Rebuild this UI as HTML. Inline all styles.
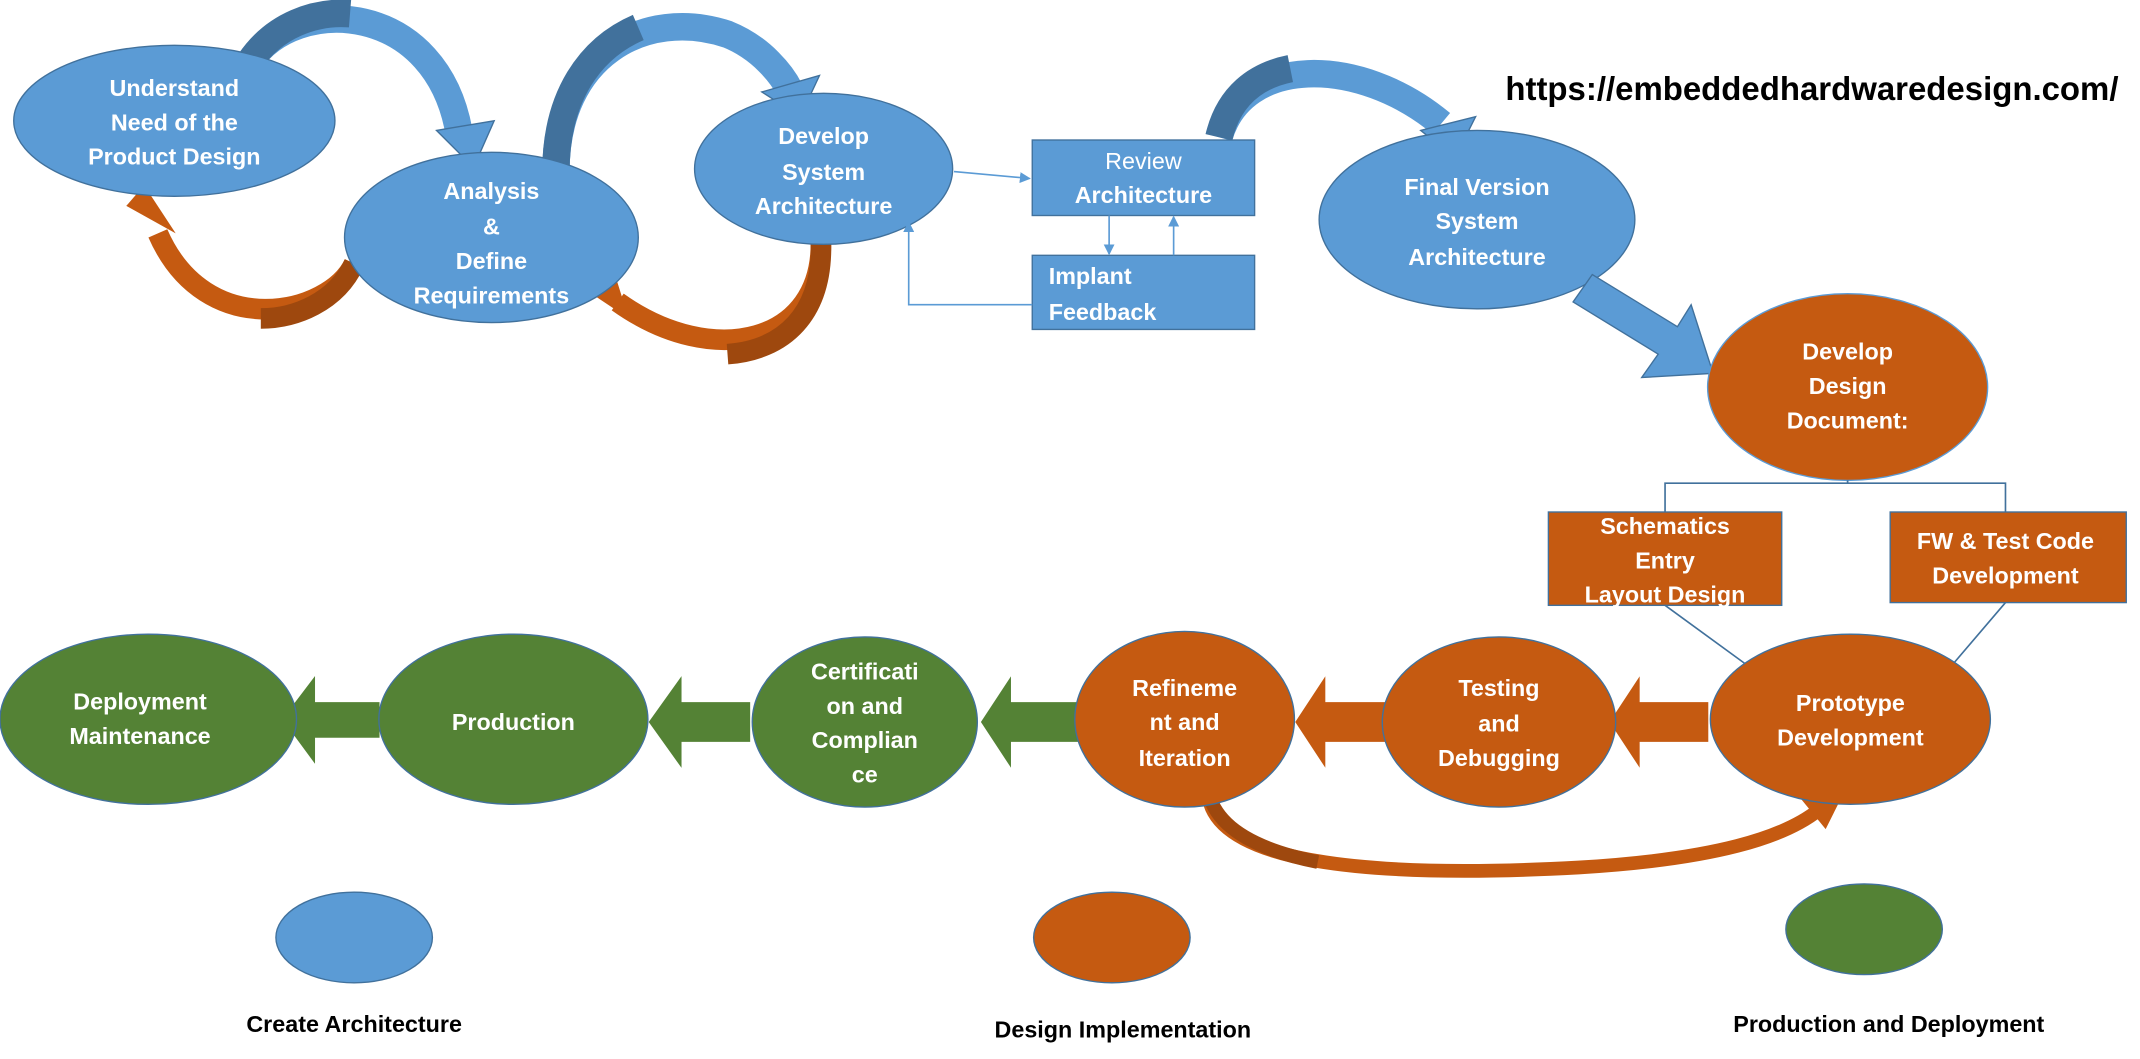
<!DOCTYPE html>
<html><head><meta charset="utf-8"><style>
html,body{margin:0;padding:0;background:#fff;}
svg{display:block;}
text{font-family:"Liberation Sans",sans-serif;font-weight:bold;}
.w{fill:#fff;font-size:17px;text-anchor:middle;}
.k{fill:#000;font-size:17px;text-anchor:middle;}
</style></head><body>
<svg width="2140" height="1059" viewBox="0 0 1559 771.5" preserveAspectRatio="none" xmlns="http://www.w3.org/2000/svg">
<defs>
<marker id="ah" markerWidth="8" markerHeight="8" refX="7" refY="4" orient="auto" markerUnits="userSpaceOnUse"><path d="M0,0 L8,4 L0,8 z" fill="#5B9BD5"/></marker>
</defs>

<!-- top blue curved arrows -->
<path d="M182,45 C215,-5 320,0 335,100" fill="none" stroke="#5B9BD5" stroke-width="20"/>
<path d="M182,45 C200,18 230,8 255,10" fill="none" stroke="#41719C" stroke-width="20"/>
<polygon points="318,95 360,88 345,122" fill="#5B9BD5" stroke="#41719C"/>
<path d="M405,125 C405,40 470,5 530,25 C555,35 570,55 575,65" fill="none" stroke="#5B9BD5" stroke-width="20"/>
<path d="M405,125 C405,70 430,35 465,20" fill="none" stroke="#41719C" stroke-width="20"/>
<polygon points="555,67 597,55 583,85" fill="#5B9BD5" stroke="#41719C"/>
<path d="M888,100 C905,40 990,40 1050,90" fill="none" stroke="#5B9BD5" stroke-width="20"/>
<path d="M888,100 C895,70 915,55 940,50" fill="none" stroke="#41719C" stroke-width="20"/>
<polygon points="1035,95 1075,85 1060,115" fill="#5B9BD5" stroke="#41719C"/>

<!-- orange curved arrows -->
<path d="M258,192 C240,230 150,250 115,170" fill="none" stroke="#C55A11" stroke-width="15"/>
<path d="M258,192 C245,220 215,232 190,232" fill="none" stroke="#9E480E" stroke-width="15"/>
<polygon points="92,150 105,135 128,170" fill="#C55A11"/>
<path d="M598,175 C600,250 520,270 450,220" fill="none" stroke="#C55A11" stroke-width="15"/>
<path d="M598,175 C600,230 570,255 530,258" fill="none" stroke="#9E480E" stroke-width="15"/>
<polygon points="428,212 448,200 458,232" fill="#C55A11"/>

<!-- blue ellipses -->
<ellipse cx="127" cy="88" rx="117" ry="55" fill="#5B9BD5" stroke="#41719C"/>
<text class="w"><tspan x="127" y="70">Understand</tspan><tspan x="127" y="95">Need of the</tspan><tspan x="127" y="120">Product Design</tspan></text>
<ellipse cx="358" cy="173" rx="107" ry="62" fill="#5B9BD5" stroke="#41719C"/>
<text class="w"><tspan x="358" y="145">Analysis</tspan><tspan x="358" y="171">&amp;</tspan><tspan x="358" y="196">Define</tspan><tspan x="358" y="221">Requirements</tspan></text>
<ellipse cx="600" cy="123" rx="94" ry="55" fill="#5B9BD5" stroke="#41719C"/>
<text class="w"><tspan x="600" y="105">Develop</tspan><tspan x="600" y="131">System</tspan><tspan x="600" y="156">Architecture</tspan></text>

<!-- review boxes -->
<rect x="752" y="102" width="162" height="55" fill="#5B9BD5" stroke="#41719C"/>
<text class="w"><tspan x="833" y="123" style="font-weight:normal">Review</tspan><tspan x="833" y="148">Architecture</tspan></text>
<rect x="752" y="186" width="162" height="54" fill="#5B9BD5" stroke="#41719C"/>
<text class="w" style="text-anchor:start"><tspan x="764" y="207">Implant</tspan><tspan x="764" y="233">Feedback</tspan></text>
<g stroke="#5B9BD5" stroke-width="1.2" fill="none" marker-end="url(#ah)">
<path d="M695,125 L750,130"/>
<path d="M808,157 L808,185"/>
<path d="M855,186 L855,158"/>
<path d="M752,222 L662,222 L662,162"/>
</g>

<ellipse cx="1076" cy="160" rx="115" ry="65" fill="#5B9BD5" stroke="#41719C"/>
<text class="w"><tspan x="1076" y="142">Final  Version</tspan><tspan x="1076" y="167">System</tspan><tspan x="1076" y="193">Architecture</tspan></text>

<text x="1320" y="73" class="k" style="font-size:24px">https://embeddedhardwaredesign.com/</text>

<!-- big diagonal arrow -->
<polygon points="1160,200 1222,238 1232,222 1248,272 1196,275 1208,258 1146,220" fill="#5B9BD5" stroke="#41719C"/>

<!-- orange section -->
<ellipse cx="1346" cy="282" rx="102" ry="68" fill="#C55A11" stroke="#5B9BD5"/>
<text class="w"><tspan x="1346" y="262">Develop</tspan><tspan x="1346" y="287">Design</tspan><tspan x="1346" y="312">Document:</tspan></text>
<path d="M1346,350 L1346,352 M1213,373 L1213,352 L1461,352 L1461,373" stroke="#41719C" stroke-width="1.2" fill="none"/>
<path d="M1346,350 L1346,352" stroke="#41719C"/>
<rect x="1128" y="373" width="170" height="68" fill="#C55A11" stroke="#41719C"/>
<text class="w"><tspan x="1213" y="389">Schematics</tspan><tspan x="1213" y="414">Entry</tspan><tspan x="1213" y="439">Layout Design</tspan></text>
<rect x="1377" y="373" width="172" height="66" fill="#C55A11" stroke="#41719C"/>
<text class="w"><tspan x="1461" y="400">FW &amp; Test Code</tspan><tspan x="1461" y="425">Development</tspan></text>
<path d="M1213,441 L1272,484 M1461,439 L1420,487" stroke="#41719C" stroke-width="1.2"/>

<!-- bottom curve -->
<path d="M880,575 C880,630 1000,640 1150,632 C1250,626 1300,610 1325,590" fill="none" stroke="#C55A11" stroke-width="10"/>
<path d="M880,575 C885,605 920,620 960,628" fill="none" stroke="#9E480E" stroke-width="10"/>
<polygon points="1312,582 1342,580 1330,604" fill="#C55A11"/>

<!-- block arrows -->
<g stroke="#fff" stroke-width="1">
<polygon points="1245,511 1195,511 1195,491 1172,526 1195,561 1195,541 1245,541" fill="#C55A11"/>
<polygon points="1016,511 966,511 966,491 943,526 966,561 966,541 1016,541" fill="#C55A11"/>
<polygon points="787,511 737,511 737,491 714,526 737,561 737,541 787,541" fill="#548235"/>
<polygon points="547,511 497,511 497,491 472,526 497,561 497,541 547,541" fill="#548235"/>
<polygon points="277,511 230,511 230,491 205,524 230,558 230,538 277,538" fill="#548235"/>
</g>

<ellipse cx="1348" cy="524" rx="102" ry="62" fill="#C55A11" stroke="#41719C"/>
<text class="w"><tspan x="1348" y="518">Prototype</tspan><tspan x="1348" y="543">Development</tspan></text>
<ellipse cx="1092" cy="526" rx="85" ry="62" fill="#C55A11" stroke="#41719C"/>
<text class="w"><tspan x="1092" y="507">Testing</tspan><tspan x="1092" y="533">and</tspan><tspan x="1092" y="558">Debugging</tspan></text>
<ellipse cx="863" cy="524" rx="80" ry="64" fill="#C55A11" stroke="#41719C"/>
<text class="w"><tspan x="863" y="507">Refineme</tspan><tspan x="863" y="532">nt and</tspan><tspan x="863" y="558">Iteration</tspan></text>
<ellipse cx="630" cy="526" rx="82" ry="62" fill="#548235" stroke="#41719C"/>
<text class="w"><tspan x="630" y="495">Certificati</tspan><tspan x="630" y="520">on and</tspan><tspan x="630" y="545">Complian</tspan><tspan x="630" y="570">ce</tspan></text>
<ellipse cx="374" cy="524" rx="98" ry="62" fill="#548235" stroke="#41719C"/>
<text class="w" x="374" y="532">Production</text>
<ellipse cx="108" cy="524" rx="108" ry="62" fill="#548235" stroke="#41719C"/>
<text class="w"><tspan x="102" y="517">Deployment</tspan><tspan x="102" y="542">Maintenance</tspan></text>

<!-- legend -->
<ellipse cx="258" cy="683" rx="57" ry="33" fill="#5B9BD5" stroke="#41719C"/>
<ellipse cx="810" cy="683" rx="57" ry="33" fill="#C55A11" stroke="#41719C"/>
<ellipse cx="1358" cy="677" rx="57" ry="33" fill="#548235" stroke="#41719C"/>
<text class="k" x="258" y="752">Create Architecture</text>
<text class="k" x="818" y="756">Design Implementation</text>
<text class="k" x="1376" y="752">Production and Deployment</text>
</svg>
</body></html>
